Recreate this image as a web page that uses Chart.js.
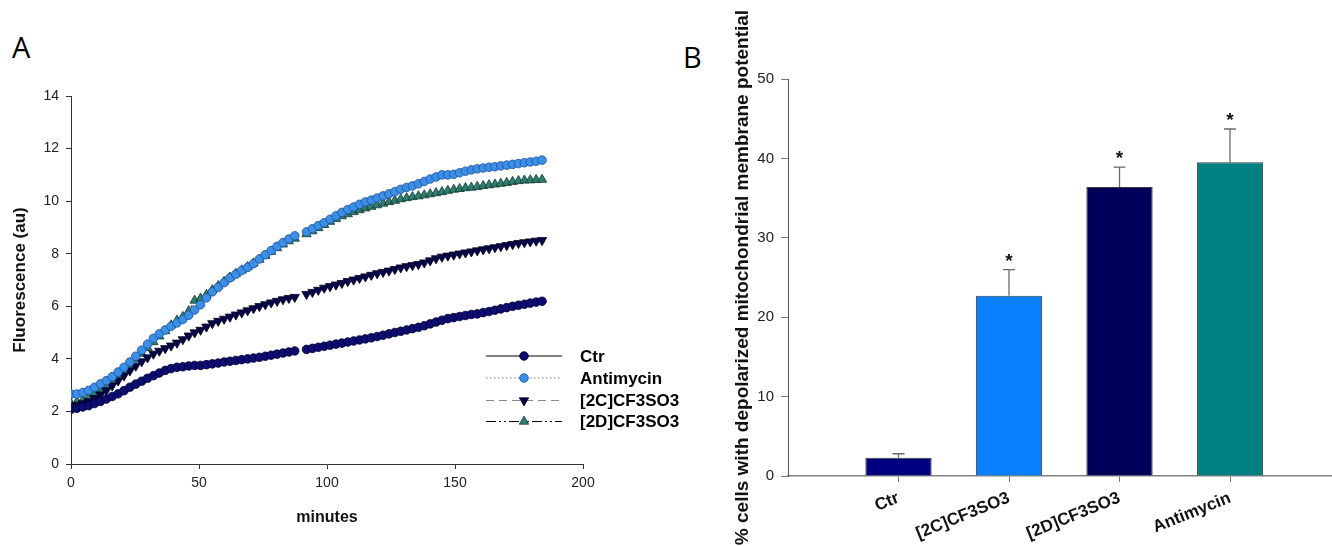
<!DOCTYPE html>
<html>
<head>
<meta charset="utf-8">
<script src="https://cdn.jsdelivr.net/npm/chart.js@4/dist/chart.umd.min.js"></script>
<style>
  html, body { margin:0; padding:0; background:#fff; }
  body { width:1332px; height:546px; position:relative; overflow:hidden; }
  .panel { position:absolute; font-family:"Open Sans", sans-serif; font-size:29px; line-height:29px; color:#000; }
  canvas { position:absolute; top:0; }
</style>
</head>
<body>
<div class="panel" style="left:12px;top:32px;">A</div>
<div class="panel" style="left:683px;top:42px;">B</div>
<canvas id="ca" width="700" height="546" style="left:0;"></canvas>
<canvas id="cb" width="652" height="546" style="left:680px;"></canvas>
<script>
// ---------- Panel A data ----------
const minutes = [0,2.3,4.6,6.9,9.2,11.5,13.8,16.1,18.4,20.7,
 23,25.3,27.6,29.9,32.2,34.5,36.8,39.1,41.4,43.7,
 46,48.3,50.6,52.9,55.2,57.5,59.8,62.1,64.4,66.7,
 69,71.3,73.6,75.9,78.2,80.5,82.8,85.1,87.4,89.7,
 92,94.3,96.6,98.9,101.2,103.5,105.8,108.1,110.4,112.7,
 115,117.3,119.6,121.9,124.2,126.5,128.8,131.1,133.4,135.7,
 138,140.3,142.6,144.9,147.2,149.5,151.8,154.1,156.4,158.7,
 161,163.3,165.6,167.9,170.2,172.5,174.8,177.1,179.4,181.7,
 184];
const ctr = [2.08,2.12,2.17,2.22,2.30,2.38,2.47,2.57,2.67,2.79,
 2.92,3.04,3.15,3.26,3.36,3.46,3.56,3.63,3.68,3.70,
 3.73,3.75,3.75,3.78,3.81,3.84,3.88,3.91,3.94,3.97,
 4.00,4.03,4.06,4.10,4.14,4.18,4.22,4.26,4.30,null,
 4.36,4.40,4.44,4.48,4.52,4.56,4.60,4.64,4.68,4.72,
 4.76,4.80,4.85,4.90,4.95,5.00,5.05,5.10,5.15,5.20,
 5.26,5.33,5.40,5.47,5.53,5.57,5.61,5.65,5.69,5.71,
 5.76,5.80,5.85,5.90,5.95,6.00,6.04,6.08,6.12,6.16,
 6.19];
const antimycin = [2.66,2.66,2.72,2.80,2.92,3.05,3.17,3.32,3.50,3.68,
 3.88,4.10,4.33,4.56,4.78,4.95,5.10,5.24,5.37,5.50,
 5.66,5.86,6.06,6.32,6.55,6.72,6.90,7.08,7.22,7.36,
 7.48,7.62,7.80,7.96,8.12,8.28,8.42,8.56,8.68,null,
 8.83,8.95,9.07,9.18,9.31,9.44,9.57,9.68,9.78,9.88,
 9.97,10.04,10.12,10.20,10.28,10.36,10.45,10.52,10.58,10.66,
 10.75,10.84,10.92,11.00,11.00,11.02,11.08,11.14,11.19,11.23,
 11.26,11.29,11.31,11.34,11.37,11.40,11.43,11.46,11.49,11.52,
 11.56];
const c2 = [2.20,2.24,2.30,2.38,2.50,2.64,2.80,2.98,3.17,3.36,
 3.55,3.73,3.90,4.05,4.19,4.30,4.40,4.50,4.61,4.74,
 4.88,5.00,5.10,5.22,5.35,5.44,5.52,5.60,5.68,5.76,
 5.84,5.92,6.00,6.07,6.14,6.20,6.26,6.31,6.35,null,
 6.46,6.54,6.62,6.70,6.76,6.82,6.88,6.95,7.01,7.07,
 7.13,7.19,7.25,7.30,7.35,7.41,7.47,7.52,7.56,7.60,
 7.66,7.74,7.82,7.88,7.92,7.96,8.00,8.04,8.08,8.12,
 8.16,8.20,8.24,8.28,8.32,8.36,8.40,8.43,8.46,8.49,
 8.51];
const d2 = [2.31,2.36,2.44,2.53,2.65,2.80,2.97,3.15,3.35,3.55,
 3.77,3.98,4.20,4.42,4.64,4.86,5.06,5.28,5.46,5.60,
 5.82,6.22,6.30,6.44,6.62,6.78,6.94,7.10,7.24,7.37,
 7.50,7.64,7.78,7.92,8.08,8.22,8.36,8.48,8.58,null,
 8.75,8.86,8.98,9.10,9.22,9.33,9.43,9.51,9.59,9.66,
 9.73,9.79,9.85,9.91,9.97,10.02,10.08,10.12,10.16,10.19,
 10.23,10.27,10.31,10.35,10.40,10.44,10.47,10.50,10.52,10.55,
 10.58,10.61,10.64,10.67,10.70,10.74,10.77,10.79,10.80,10.81,
 10.82];
const seriesNames = ['Ctr','Antimycin','[2C]CF3SO3','[2D]CF3SO3'];
const yTicksA = [0,2,4,6,8,10,12,14];
const xTicksA = [0,50,100,150,200];

// ---------- Panel B data ----------
const barCats = ['Ctr','[2C]CF3SO3','[2D]CF3SO3','Antimycin'];
const barPos = [1,2,3,4];
const barVals = [2.3,22.7,36.4,39.5];
const barErrs = [0.5,3.3,2.5,4.2];
const barSig = [false,true,true,true];
const yTicksB = [0,10,20,30,40,50];

const FONT = '"Liberation Sans", Arial, sans-serif';
Chart.defaults.font.family = FONT;
Chart.defaults.color = '#222';

function pts(arr){ return minutes.map((t,i)=>({x:t,y:arr[i]})); }

const styleA = [
  {fill:'#0c0c72', stroke:'#00002a', shape:'circle', rot:0, r:4.3, dash:[], lineColor:'#000'},
  {fill:'#3b8fe6', stroke:'#1a4f9a', shape:'circle', rot:0, r:4.3, dash:[1.5,2.5], lineColor:'#777'},
  {fill:'#05054a', stroke:'#000018', shape:'triangle', rot:180, r:5.4, dash:[8,5], lineColor:'#888'},
  {fill:'#2f7d6e', stroke:'#123a33', shape:'triangle', rot:0, r:5.4, dash:[10,3,2,3,2,3], lineColor:'#000'}
];
const seriesData = [ctr, antimycin, c2, d2];

function drawMarker(ctx, s, x, y){
  ctx.save();
  ctx.fillStyle = s.fill; ctx.strokeStyle = s.stroke; ctx.lineWidth = 0.8; ctx.setLineDash([]);
  ctx.beginPath();
  if (s.shape === 'circle') {
    ctx.arc(x, y, s.r, 0, Math.PI*2);
  } else {
    const r = s.r;
    let a = s.rot*Math.PI/180;
    for (let k=0;k<3;k++){
      const px = x + Math.sin(a)*r, py = y - Math.cos(a)*r;
      if (k===0) ctx.moveTo(px,py); else ctx.lineTo(px,py);
      a += 2*Math.PI/3;
    }
    ctx.closePath();
  }
  ctx.fill(); ctx.stroke();
  ctx.restore();
}

const legendPlugin = {
  id:'customLegend',
  afterDraw(chart){
    const ctx = chart.ctx;
    const rows = [356, 378, 400.5, 421.5];
    chart.data.datasets.forEach((ds,i)=>{
      const s = styleA[i]; const y = rows[i];
      ctx.save();
      ctx.strokeStyle = s.lineColor; ctx.lineWidth = 1.2; ctx.setLineDash(s.dash);
      ctx.beginPath(); ctx.moveTo(486,y); ctx.lineTo(562,y); ctx.stroke();
      ctx.restore();
      drawMarker(ctx, s, 524, y);
      ctx.save();
      ctx.fillStyle = '#000'; ctx.font = 'bold 17px '+FONT; ctx.textBaseline = 'middle'; ctx.textAlign='left';
      ctx.fillText(ds.label, 580, y+1);
      ctx.restore();
    });
  }
};

new Chart(document.getElementById('ca'), {
  type:'line',
  data:{ datasets: seriesNames.map((name,i)=>({
    label:name,
    data: pts(seriesData[i]),
    borderColor: styleA[i].lineColor,
    borderWidth: 1,
    borderDash: styleA[i].dash,
    backgroundColor: styleA[i].fill,
    pointBackgroundColor: styleA[i].fill,
    pointBorderColor: styleA[i].stroke,
    pointBorderWidth: 0.8,
    pointStyle: styleA[i].shape,
    pointRotation: styleA[i].rot,
    pointRadius: styleA[i].r,
    spanGaps:false,
    tension:0
  })) },
  options:{
    responsive:false, animation:false, events:[],
    layout:{ padding:{ left:0, right:117, top:96, bottom:0 } },
    plugins:{ legend:{display:false}, tooltip:{enabled:false} },
    scales:{
      x:{ type:'linear', min:0, max:200,
          afterBuildTicks(s){ s.ticks = xTicksA.map(v=>({value:v})); },
          afterFit(s){ s.height = 82; },
          grid:{ display:true, drawOnChartArea:false, drawTicks:true, tickLength:5, color:'#333', lineWidth:1 },
          border:{ display:true, color:'#333', width:1 },
          ticks:{ font:{size:14}, color:'#222', padding:6, maxRotation:0 },
          title:{ display:true, text:'minutes', font:{size:16, weight:'bold'}, color:'#111', padding:{bottom:19} } },
      y:{ type:'linear', min:0, max:14,
          afterBuildTicks(s){ s.ticks = yTicksA.map(v=>({value:v})); },
          afterFit(s){ s.width = 71; },
          grid:{ display:true, drawOnChartArea:false, drawTicks:true, tickLength:5, color:'#333', lineWidth:1 },
          border:{ display:true, color:'#333', width:1 },
          ticks:{ font:{size:14}, color:'#222', padding:7 },
          title:{ display:true, text:'Fluorescence (au)', font:{size:17, weight:'bold'}, color:'#111', padding:{top:10} } }
    }
  },
  plugins:[legendPlugin]
});

// ---------- Panel B ----------
const errPlugin = {
  id:'errBars',
  afterDatasetsDraw(chart){
    const ctx = chart.ctx; const ys = chart.scales.y;
    const meta = chart.getDatasetMeta(0);
    meta.data.forEach((bar,i)=>{
      const x = bar.x;
      const yb = ys.getPixelForValue(barVals[i]);
      const yt = ys.getPixelForValue(barVals[i]+barErrs[i]);
      ctx.save();
      ctx.strokeStyle = '#6a6a6a'; ctx.lineWidth = 1.3;
      ctx.beginPath(); ctx.moveTo(x, yb); ctx.lineTo(x, yt);
      ctx.moveTo(x-6, yt); ctx.lineTo(x+6, yt); ctx.stroke();
      if (barSig[i]) {
        ctx.fillStyle = '#111'; ctx.font = 'bold 19px '+FONT; ctx.textAlign='center'; ctx.textBaseline='alphabetic';
        ctx.fillText('*', x, yt - 3);
      }
      ctx.restore();
    });
  }
};

new Chart(document.getElementById('cb'), {
  type:'bar',
  data:{ datasets:[{
    data: barPos.map((p,i)=>({x:p, y:barVals[i]})),
    backgroundColor:['#000080','#0a80ff','#00005a','#008080'],
    borderColor:'#3a3a3a', borderWidth:1,
    categoryPercentage:0.6, barPercentage:1.0
  }]},
  options:{
    responsive:false, animation:false, events:[],
    layout:{ padding:{ left:0, right:0, top:79, bottom:0 } },
    plugins:{ legend:{display:false}, tooltip:{enabled:false} },
    scales:{
      x:{ type:'linear', min:0, max:4.923, offset:false,
          afterBuildTicks(s){ s.ticks = barPos.map(v=>({value:v})); },
          afterFit(s){ s.height = 70; },
          grid:{ display:true, offset:false, drawOnChartArea:false, drawTicks:true, tickLength:6, color:'#777', lineWidth:1 },
          border:{ display:true, color:'#808080', width:1.5 },
          ticks:{ font:{size:17, weight:'bold'}, color:'#111', padding:6, minRotation:22, maxRotation:22, autoSkip:false,
                  callback:(v,idx)=>barCats[idx] } },
      y:{ type:'linear', min:0, max:50,
          afterBuildTicks(s){ s.ticks = yTicksB.map(v=>({value:v})); },
          afterFit(s){ s.width = 108; },
          grid:{ display:true, drawOnChartArea:false, drawTicks:true, tickLength:7, color:'#777', lineWidth:1 },
          border:{ display:true, color:'#555', width:1 },
          ticks:{ font:{size:15}, color:'#222', padding:7 },
          title:{ display:true, text:'% cells with depolarized mitochondrial membrane potential', font:{size:19, weight:'bold'}, color:'#111', padding:{top:51} } }
    }
  },
  plugins:[errPlugin]
});
</script>
</body>
</html>
